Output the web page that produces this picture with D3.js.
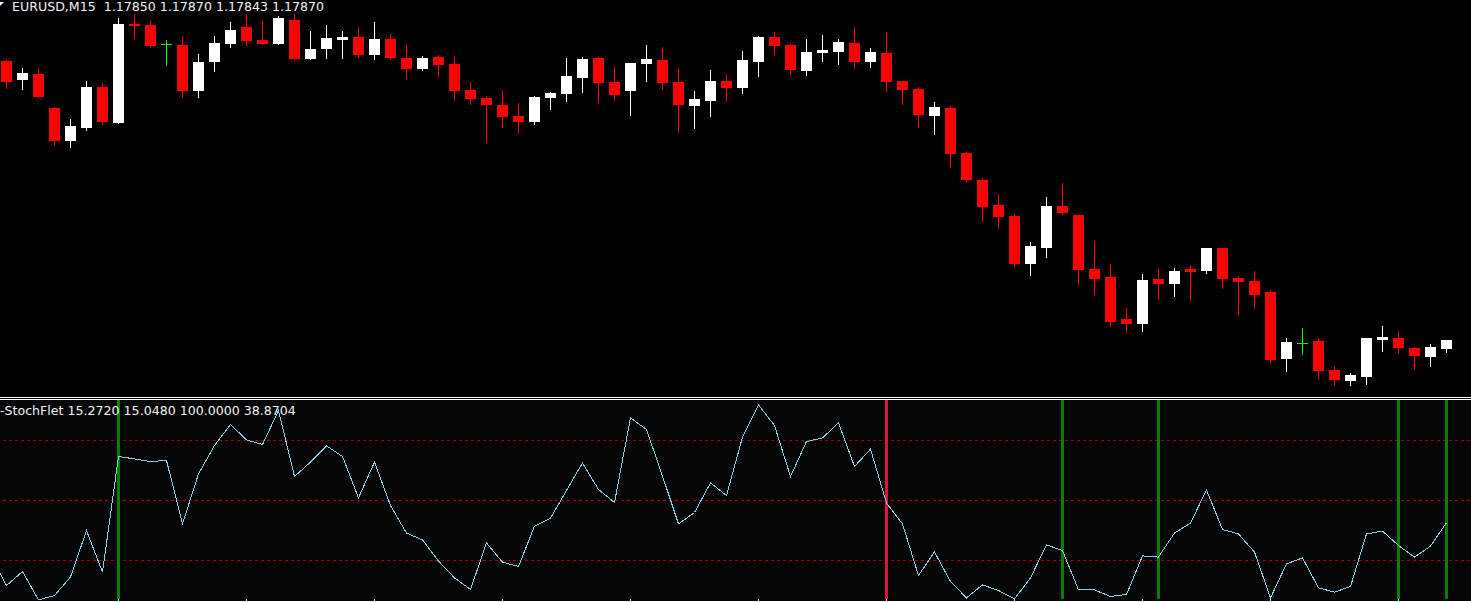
<!DOCTYPE html>
<html>
<head>
<meta charset="utf-8">
<script src="https://cdn.jsdelivr.net/npm/d3@7"></script>
<style>
  html, body { margin:0; padding:0; background:#000; overflow:hidden; }
  svg text { font-family: "DejaVu Sans", sans-serif; }
</style>
</head>
<body>
<div id="chart"></div>
<script>
// EURUSD M15 bars
var symbol = "EURUSD,M15"

var open = [1.18490,1.18448,1.18462,1.18387,1.18313,1.18342,1.18433,1.18353,1.18573,1.18570,
  1.18528,1.18526,1.18424,1.18488,1.18528,1.18566,1.18537,1.18528,1.18582,1.18495,
  1.18517,1.18537,1.18544,1.18504,1.18539,1.18497,1.18473,1.18499,1.18484,1.18426,
  1.18408,1.18393,1.18368,1.18355,1.18408,1.18417,1.18453,1.18497,1.18444,1.18424,
  1.18484,1.18493,1.18444,1.18390,1.18402,1.18446,1.18430,1.18488,1.18544,1.18526,
  1.18468,1.18508,1.18510,1.18530,1.18488,1.18508,1.18446,1.18428,1.18368,1.18386,
  1.18286,1.18226,1.18170,1.18146,1.18039,1.18075,1.18168,1.18148,1.18028,1.18010,
  1.17917,1.17906,1.18006,1.17995,1.18028,1.18024,1.18075,1.18008,1.18002,1.17977,
  1.17828,1.17864,1.17868,1.17804,1.17779,1.17788,1.17870,1.17875,1.17853,1.17833,
  1.17850]

var high = [1.18493,1.18475,1.18473,1.18389,1.18362,1.18446,1.18442,1.18586,1.18595,1.18582,
  1.18537,1.18546,1.18506,1.18546,1.18577,1.18595,1.18579,1.18590,1.18595,1.18557,
  1.18570,1.18557,1.18566,1.18577,1.18550,1.18526,1.18502,1.18504,1.18499,1.18444,
  1.18413,1.18426,1.18397,1.18413,1.18422,1.18497,1.18499,1.18499,1.18477,1.18486,
  1.18526,1.18522,1.18473,1.18424,1.18470,1.18462,1.18513,1.18546,1.18555,1.18528,
  1.18539,1.18548,1.18539,1.18566,1.18519,1.18555,1.18446,1.18433,1.18399,1.18390,
  1.18288,1.18230,1.18195,1.18150,1.18088,1.18188,1.18219,1.18148,1.18090,1.18039,
  1.17942,1.18017,1.18028,1.18030,1.18037,1.18075,1.18075,1.18013,1.18024,1.17982,
  1.17875,1.17897,1.17875,1.17813,1.17797,1.17875,1.17902,1.17890,1.17855,1.17862,
  1.17870]

var low = [1.18431,1.18428,1.18410,1.18304,1.18300,1.18337,1.18350,1.18353,1.18542,1.18522,
  1.18482,1.18411,1.18411,1.18468,1.18522,1.18526,1.18529,1.18528,1.18495,1.18495,
  1.18497,1.18497,1.18499,1.18495,1.18495,1.18453,1.18470,1.18457,1.18404,1.18395,
  1.18310,1.18344,1.18330,1.18350,1.18384,1.18402,1.18422,1.18399,1.18404,1.18370,
  1.18446,1.18428,1.18333,1.18342,1.18368,1.18402,1.18419,1.18457,1.18506,1.18462,
  1.18459,1.18490,1.18484,1.18475,1.18477,1.18424,1.18395,1.18344,1.18328,1.18255,
  1.18222,1.18135,1.18119,1.18035,1.18015,1.18055,1.18150,1.17995,1.17973,1.17902,
  1.17888,1.17890,1.17962,1.17968,1.17959,1.18019,1.17986,1.17928,1.17942,1.17822,
  1.17802,1.17839,1.17784,1.17770,1.17770,1.17773,1.17846,1.17842,1.17806,1.17813,
  1.17843]

var close = [1.18444,1.18464,1.18410,1.18313,1.18346,1.18433,1.18355,1.18573,1.18569,1.18524,
  1.18528,1.18424,1.18488,1.18530,1.18559,1.18535,1.18529,1.18586,1.18495,1.18517,
  1.18542,1.18544,1.18504,1.18539,1.18497,1.18473,1.18497,1.18482,1.18424,1.18406,
  1.18393,1.18366,1.18355,1.18410,1.18419,1.18457,1.18495,1.18442,1.18415,1.18486,
  1.18495,1.18442,1.18393,1.18406,1.18446,1.18430,1.18493,1.18544,1.18524,1.18470,
  1.18510,1.18515,1.18533,1.18488,1.18510,1.18444,1.18426,1.18370,1.18388,1.18284,
  1.18226,1.18166,1.18144,1.18039,1.18079,1.18168,1.18153,1.18026,1.18006,1.17910,
  1.17906,1.18004,1.17995,1.18024,1.18022,1.18075,1.18006,1.17999,1.17970,1.17826,
  1.17866,1.17864,1.17802,1.17782,1.17793,1.17875,1.17877,1.17853,1.17835,1.17855,
  1.17870]

// stoch line, first value belongs to the bar just left of the screen
var stoch = [22.6,
  7.5,14.5,0.3,2.5,11.7,35.0,14.2,72.0,70.8,69.5,
  70.0,38.3,63.3,77.5,88.0,80.3,78.0,95.0,62.0,69.2,
  77.3,72.0,51.3,69.2,47.5,33.7,30.3,19.7,11.3,5.5,
  28.8,19.2,17.0,37.2,41.2,55.0,68.8,55.5,49.0,91.3,
  85.5,62.2,38.3,44.0,58.8,52.5,81.7,97.8,87.5,62.0,
  79.5,81.3,88.8,67.0,75.7,48.7,38.3,12.5,24.3,9.5,
  1.3,7.8,5.0,0.8,11.3,27.8,25.0,5.3,5.3,2.0,
  3.0,22.3,21.7,33.7,38.7,55.3,35.5,33.3,24.2,1.3,
  18.3,21.3,6.3,4.2,7.0,33.3,34.7,27.5,21.7,27.2,
  38.9]

var stoch_levels = [80, 50, 20]
var buy_signals = [7, 66, 72, 87, 90]
var sell_signals = [55]
var stoch_label = ["-StochFlet", "15.2720", "15.0480", "100.0000", "38.8704"]

var width = 1471, height = 602

var svg = d3.select("#chart").append("svg")
    .attr("width", width)
    .attr("height", height)
    .style("display", "block")
    .style("background", "#000")

// bar index -> pixel centre
var x = d3.scaleLinear().domain([0, open.length - 1]).range([6.5, 6.5 + 16 * (open.length - 1)])
var y = d3.scaleLinear().domain([1.17748, 1.18626]).range([395, 0])
var ys = d3.scaleLinear().domain([0, 100]).range([600.5, 400.5])

var bars = open.map(function(o, i) {
    return {i: i, o: o, h: high[i], l: low[i], c: close[i]}
})
function bar_color(d) {
    if (d.c == d.o) return "#00ff00"
    return d.c > d.o ? "#ffffff" : "#ff0000"
}

var main = svg.append("g").attr("shape-rendering", "crispEdges")

// wicks
main.selectAll("line.wick")
    .data(bars)
    .join("line")
    .attr("class", "wick")
    .attr("x1", d => x(d.i))
    .attr("x2", d => x(d.i))
    .attr("y1", d => Math.round(y(d.h)))
    .attr("y2", d => Math.round(y(d.l)) + 1)
    .attr("stroke", bar_color)
    .attr("stroke-width", 1)

// bodies
main.selectAll("rect.body")
    .data(bars)
    .join("rect")
    .attr("class", "body")
    .attr("x", d => x(d.i) - 5.5)
    .attr("width", 11)
    .attr("y", d => Math.round(y(Math.max(d.o, d.c))))
    .attr("height", d => Math.max(1, Math.round(y(Math.min(d.o, d.c))) - Math.round(y(Math.max(d.o, d.c)))))
    .attr("fill", bar_color)

// header
svg.append("path")
    .attr("d", "M0,2L4,2L0,6Z")
    .attr("fill", "#fff")
svg.append("text")
    .attr("x", 12)
    .attr("y", 11)
    .style("font-size", "12.6px")
    .attr("fill", "#f2f2f2")
    .attr("xml:space", "preserve")
    .text(symbol + "  " + [open[open.length-1], high[high.length-1], low[low.length-1], close[close.length-1]].map(d3.format(".5f")).join(" "))

// panel separators
svg.append("line").attr("x1", 0).attr("x2", width).attr("y1", 397.5).attr("y2", 397.5).attr("stroke", "#fff")
svg.append("line").attr("x1", 0).attr("x2", width).attr("y1", 399.5).attr("y2", 399.5).attr("stroke", "#fff")

var sub = svg.append("g")
sub.append("rect")
    .attr("x", 0).attr("y", 400)
    .attr("width", width).attr("height", 201)
    .attr("fill", "#050505")

// level lines
sub.selectAll("line.level")
    .data(stoch_levels)
    .join("line")
    .attr("class", "level")
    .attr("x1", 3).attr("x2", width)
    .attr("y1", d => ys(d)).attr("y2", d => ys(d))
    .attr("stroke", "#a00000")
    .attr("stroke-dasharray", "3,3")
    .attr("shape-rendering", "crispEdges")

// signal bars
function signal_lines(data, color) {
    sub.append("g").selectAll("line")
        .data(data)
        .join("line")
        .attr("x1", d => x(d)).attr("x2", d => x(d))
        .attr("y1", 400).attr("y2", 599)
        .attr("stroke", color)
        .attr("stroke-width", 3)
        .attr("shape-rendering", "crispEdges")
}
signal_lines(buy_signals, "#008000")
signal_lines(sell_signals, "#dc143c")

// stoch line
var line = d3.line()
    .x((d, i) => x(i - 1))
    .y(d => ys(d))
sub.append("path")
    .datum(stoch)
    .attr("d", line)
    .attr("fill", "none")
    .attr("stroke", "#87ceeb")
    .attr("stroke-width", 1)
    .attr("shape-rendering", "crispEdges")

// bottom time axis (labels fall off the screen)
var ticks = d3.range(7, open.length, 8)
sub.append("line").attr("x1", 0).attr("x2", width).attr("y1", 601.5).attr("y2", 601.5).attr("stroke", "#fff")
sub.selectAll("line.tick")
    .data(ticks)
    .join("line")
    .attr("class", "tick")
    .attr("x1", d => x(d)).attr("x2", d => x(d))
    .attr("y1", 599).attr("y2", 605)
    .attr("stroke", "#fff")
    .attr("shape-rendering", "crispEdges")

sub.append("text")
    .attr("x", 0)
    .attr("y", 415)
    .style("font-size", "12.6px")
    .attr("fill", "#f2f2f2")
    .text(stoch_label.join(" "))
</script>
</body>
</html>
